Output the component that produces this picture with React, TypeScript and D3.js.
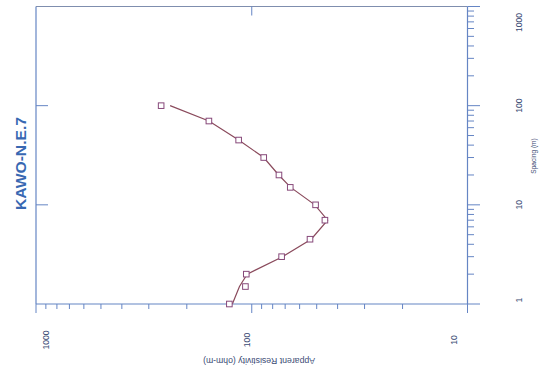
import React from "react";
import * as d3 from "d3";

// Electrode spacing (m) of each sounding reading
const SPACING = [1, 1.5, 2, 3, 4.5, 7, 10, 15, 20, 30, 45, 70, 100];
// Field apparent resistivity (ohm-m)
const OBSERVED_RES = [127, 107, 106, 72.7, 53.7, 45.8, 50.6, 66.3, 74.8, 88, 115, 158, 263];
// Computed layered-model response (ohm-m)
const MODEL_RES = [123, 114, 105, 72, 53, 44.5, 51, 66, 75, 88, 115, 158, 239];

const SPACING_LABELS = [1, 10, 100, 1000];
const RES_LABELS = [1000, 100, 10];

const TITLE = "KAWO-N.E.7";
const SPACING_TITLE = "Spacing (m)";
const RES_TITLE = "Apparent Resistivity (ohm-m)";

const isDecade = (v: number) => Math.abs(Math.log10(v) - Math.round(Math.log10(v))) < 1e-9;

export default function App() {
  const W = 548;
  const H = 371;
  const left = 36;
  const right = 467.5;
  const top = 6.5;
  const bottom = 304;

  const y = d3.scaleLog().domain([1, 1000]).range([bottom, top]);
  const x = d3.scaleLog().domain([1000, 10]).range([left, right]);

  const axisColor = "#6585c4";
  const labelColor = "#3a4a74";
  const curveColor = "#8a4a5c";
  const markerColor = "#87497a";
  const font = "'Liberation Sans', Arial, sans-serif";

  const model = SPACING.map((s, i) => [x(MODEL_RES[i]), y(s)] as [number, number]);
  const linePath = d3.line().curve(d3.curveLinear)(model) || "";

  const spacingTicks = y.ticks();
  const resTicks = x.ticks();

  const clamp = (v: number, lo: number, hi: number) => Math.max(lo, Math.min(hi, v));

  return (
    <svg
      width={W}
      height={H}
      viewBox={`0 0 ${W} ${H}`}
      style={{ position: "absolute", left: 0, top: 0, background: "#ffffff" }}
    >
      <rect x={0} y={0} width={W} height={H} fill="#ffffff" />

      {/* plot frame */}
      <g stroke={axisColor} strokeWidth={1.2} fill="none">
        <line x1={left} y1={top} x2={left} y2={bottom} />
        <line x1={left} y1={top} x2={right} y2={top} stroke="#7f8eae" />
        <line x1={right} y1={top} x2={right} y2={bottom} />
        <line x1={left} y1={bottom} x2={right} y2={bottom} />
      </g>

      {/* spacing axis ticks (right side) */}
      <g stroke={axisColor} strokeWidth={1}>
        {spacingTicks.map((v) => (
          <line key={`s${v}`} x1={right} x2={right + (isDecade(v) ? 12.5 : 6.5)} y1={y(v)} y2={y(v)} />
        ))}
        {spacingTicks.filter((v) => isDecade(v) && v > 1 && v < 1000).map((v) => (
          <line key={`si${v}`} x1={left} x2={left + 12} y1={y(v)} y2={y(v)} />
        ))}
      </g>

      {/* resistivity axis ticks (bottom) */}
      <g stroke={axisColor} strokeWidth={1}>
        {resTicks.map((v) => (
          <line key={`r${v}`} x1={x(v)} x2={x(v)} y1={bottom} y2={bottom + (isDecade(v) ? 9 : 5)} />
        ))}
        {resTicks.filter((v) => isDecade(v) && v > 10 && v < 1000).map((v) => (
          <line key={`ri${v}`} x1={x(v)} x2={x(v)} y1={top} y2={top + 9} />
        ))}
      </g>

      {/* model curve */}
      <path d={linePath} fill="none" stroke={curveColor} strokeWidth={1.2} />

      {/* observed readings */}
      <g stroke={markerColor} strokeWidth={1} fill="#ffffff">
        {SPACING.map((s, i) => (
          <rect key={`m${i}`} x={x(OBSERVED_RES[i]) - 2.8} y={y(s) - 2.8} width={5.6} height={5.6} />
        ))}
      </g>

      {/* spacing tick labels */}
      <g fill={labelColor} fontFamily={font} fontSize={8.6}>
        {SPACING_LABELS.map((v) => (
          <text
            key={`sl${v}`}
            transform={`translate(522,${clamp(y(v), 22.5, 300)}) rotate(-90)`}
            textAnchor="middle"
          >
            {v}
          </text>
        ))}
      </g>
      <text
        transform="translate(535.5,156) rotate(-90)"
        textAnchor="middle"
        fill={labelColor}
        fontFamily={font}
        fontSize={6.6}
      >
        {SPACING_TITLE}
      </text>

      {/* resistivity tick labels */}
      <g fill={labelColor} fontFamily={font} fontSize={8.6}>
        {RES_LABELS.map((v) => (
          <text
            key={`rl${v}`}
            transform={`translate(${clamp(x(v) - 1.5, 48.5, 456.5)},340) rotate(-90)`}
            textAnchor="middle"
          >
            {v}
          </text>
        ))}
      </g>
      <text
        transform="translate(259,357.5) rotate(180)"
        textAnchor="middle"
        fill={labelColor}
        fontFamily={font}
        fontSize={8.5}
        textLength={112}
        lengthAdjust="spacingAndGlyphs"
      >
        {RES_TITLE}
      </text>

      {/* sounding title */}
      <text
        transform="translate(25.5,163.5) rotate(-90)"
        textAnchor="middle"
        fill="#3868b2"
        fontFamily={font}
        fontSize={14}
        fontWeight={700}
        textLength={93}
        lengthAdjust="spacingAndGlyphs"
      >
        {TITLE}
      </text>
    </svg>
  );
}
